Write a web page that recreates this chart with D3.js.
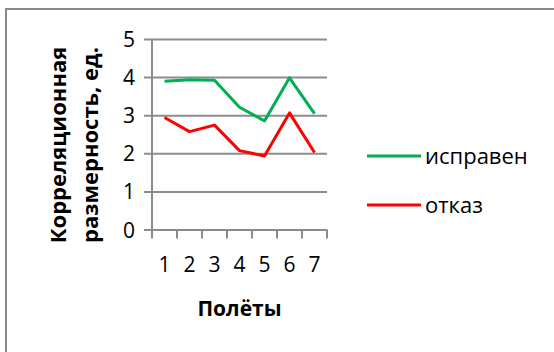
<!DOCTYPE html>
<html>
<head>
<meta charset="utf-8">
<script src="https://cdn.jsdelivr.net/npm/d3@7"></script>
<style>
  html, body { margin: 0; padding: 0; background: #fff; }
  svg { display: block; }
  text { font-family: "Open Sans", "Noto Sans", sans-serif; fill: #000; }
</style>
</head>
<body>
<svg id="chart" width="554" height="352"></svg>
<script>
// Flight numbers along the x axis
const flights = ["1", "2", "3", "4", "5", "6", "7"];
// Correlation dimension per flight, serviceable unit
const serviceable = [3.89, 3.93, 3.92, 3.21, 2.85, 3.98, 3.04];
// Correlation dimension per flight, failed unit
const failed = [2.94, 2.57, 2.74, 2.07, 1.93, 3.06, 2.02];
const yTicks = [0, 1, 2, 3, 4, 5];

const seriesNames = ["исправен", "отказ"];
const seriesColors = ["#00B050", "#FF0000"];

const svg = d3.select("#chart");
const gridColor = "#8c8c8c";

// outer chart frame
svg.append("rect")
  .attr("x", 6).attr("y", 9)
  .attr("width", 600).attr("height", 400)
  .attr("fill", "none")
  .attr("stroke", "#8a8a8a")
  .attr("stroke-width", 2);

const plot = { left: 152, right: 327, top: 39, bottom: 229.5 };

const x = d3.scaleBand()
  .domain(flights)
  .range([plot.left, plot.right])
  .padding(0);

const y = d3.scaleLinear()
  .domain([0, 5])
  .range([plot.bottom, plot.top]);

// horizontal gridlines with outward ticks
const yAxis = d3.axisLeft(y)
  .tickValues(yTicks)
  .tickSize(-(plot.right - plot.left))
  .tickPadding(17)
  .tickFormat(d3.format("d"));

const gy = svg.append("g")
  .attr("transform", `translate(${plot.left},0)`)
  .call(yAxis);
gy.select(".domain").remove();
gy.selectAll(".tick line")
  .attr("x1", -8)
  .attr("stroke", gridColor)
  .attr("stroke-width", 2);
gy.selectAll(".tick text")
  .style("font-size", "21px")
  .attr("dy", "0.36em");

// vertical axis line
svg.append("line")
  .attr("x1", plot.left).attr("x2", plot.left)
  .attr("y1", plot.top).attr("y2", plot.bottom)
  .attr("stroke", gridColor)
  .attr("stroke-width", 2);

// category boundary ticks below the plot
const boundaries = flights.map(f => x(f)).concat([x(flights[flights.length - 1]) + x.bandwidth()]);
svg.append("g").selectAll("line")
  .data(boundaries)
  .join("line")
  .attr("x1", d => d).attr("x2", d => d)
  .attr("y1", plot.bottom).attr("y2", plot.bottom + 9)
  .attr("stroke", gridColor)
  .attr("stroke-width", 2);

// category labels
svg.append("g").selectAll("text")
  .data(flights)
  .join("text")
  .attr("x", d => x(d) + x.bandwidth() / 2)
  .attr("y", 272)
  .attr("text-anchor", "middle")
  .style("font-size", "21px")
  .text(d => d);

// series lines
const line = d3.line()
  .x((d, i) => x(flights[i]) + x.bandwidth() / 2)
  .y(d => y(d));

[serviceable, failed].forEach((vals, k) => {
  svg.append("path")
    .datum(vals)
    .attr("d", line)
    .attr("fill", "none")
    .attr("stroke", seriesColors[k])
    .attr("stroke-width", 3)
    .attr("stroke-linejoin", "round");
});

// axis titles
svg.append("text")
  .attr("x", (plot.left + plot.right) / 2)
  .attr("y", 316)
  .attr("text-anchor", "middle")
  .style("font-size", "21px")
  .style("font-weight", "bold")
  .text("Полёты");

const yTitle = svg.append("text")
  .attr("transform", "translate(0,145) rotate(-90)")
  .attr("text-anchor", "middle")
  .style("font-size", "22px")
  .style("font-weight", "bold");
yTitle.append("tspan").attr("x", 0).attr("y", 66).text("Корреляционная");
yTitle.append("tspan").attr("x", 0).attr("y", 98).text("размерность, ед.");

// legend
const legend = svg.append("g");
const legendY = [156, 205];
seriesNames.forEach((name, k) => {
  legend.append("line")
    .attr("x1", 367).attr("x2", 421)
    .attr("y1", legendY[k]).attr("y2", legendY[k])
    .attr("stroke", seriesColors[k])
    .attr("stroke-width", 3);
  legend.append("text")
    .attr("x", 425)
    .attr("y", legendY[k] + 8)
    .style("font-size", "22px")
    .text(name);
});
</script>
</body>
</html>
